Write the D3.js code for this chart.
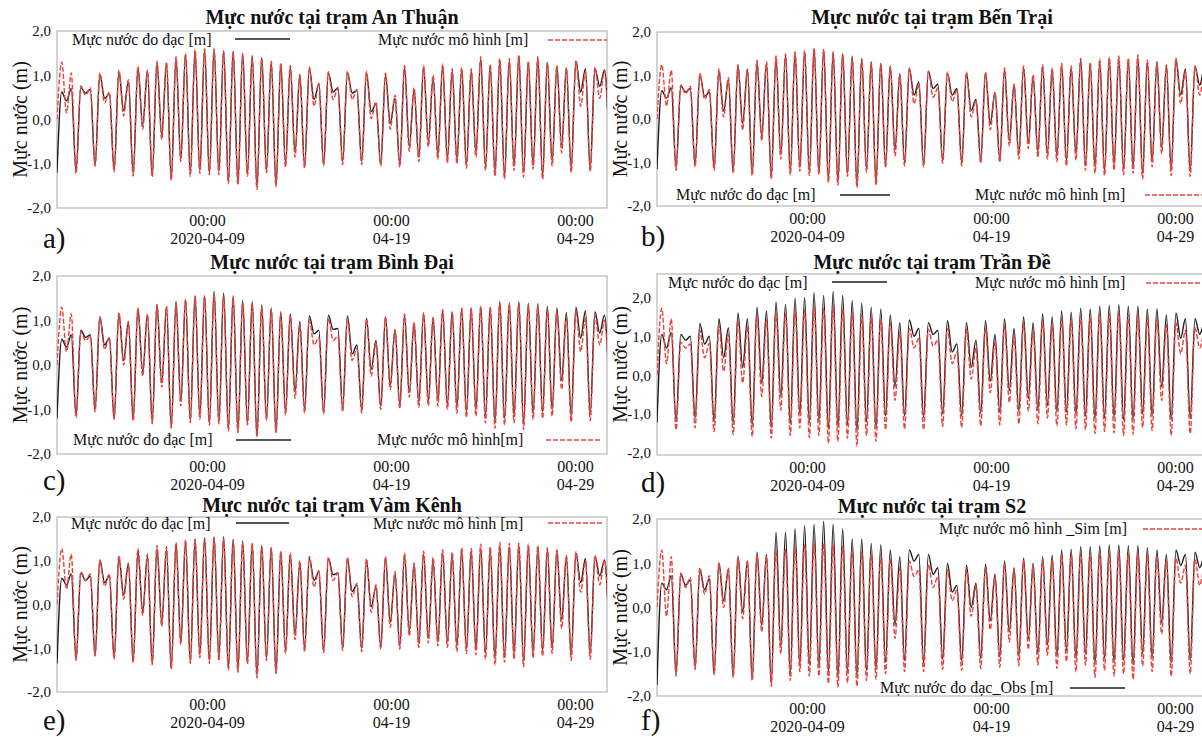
<!DOCTYPE html>
<html><head><meta charset="utf-8">
<script src="https://cdn.jsdelivr.net/npm/d3@7"></script>
<style>
body{margin:0;background:#fff;}
svg text{font-family:"Liberation Serif","Times New Roman",serif;fill:#111;}
</style></head>
<body><svg id="chart" width="1202" height="737"></svg>
<script>
// ---------- data ----------
const stationNames = ["An Thuận","Bến Trại","Bình Đại","Trần Đề","Vàm Kênh","S2"];
const panelLetters = ["a)","b)","c)","d)","e)","f)"];
const seriesStart = "2020-03-31T20:20:00Z";   // first sample (start of axis)
const seriesEnd = "2020-04-30T17:45:00Z";     // end of axis
const extremeStepHours = 6.21;                // spacing between successive highs/lows
const tickDates = ["2020-04-09T00:00:00Z","2020-04-19T00:00:00Z","2020-04-29T00:00:00Z"];
const tickTimeLabels = ["00:00","00:00","00:00"];
const tickDateLabels = ["2020-04-09","04-19","04-29"];
const yTicks = [-2,-1,0,1,2];

// successive high/low water levels [m]
const obsA = [
-1.20,0.62,0.42,0.70, -1.18,0.72,0.60,0.68, -1.03,1.02,0.48,0.58, -1.14,1.08,0.20,0.85,
-1.22,1.17,-0.12,1.08, -1.26,1.28,-0.35,1.25, -1.33,1.38,-0.88,1.46, -1.22,1.54,-1.15,1.57,
-1.20,1.58,-1.18,1.55, -1.40,1.55,-1.42,1.50, -1.22,1.45,-1.52,1.40, -1.15,1.30,-1.48,1.25,
-1.00,1.18,-0.75,1.00, -1.05,1.15,0.45,0.80, -1.00,1.05,0.62,0.72, -0.95,1.05,0.60,0.65,
-0.95,1.05,0.18,0.35, -1.00,1.00,-0.08,0.48, -1.00,1.17,-0.60,0.67, -0.85,1.17,-0.50,0.94,
-0.80,1.20,-0.88,1.10, -0.90,1.12,-1.00,1.10, -0.75,1.36,-1.05,1.20, -1.18,1.32,-1.26,1.32,
-1.05,1.43,-1.20,1.28, -1.05,1.39,-1.26,1.28, -0.95,1.20,-0.60,1.15, -1.10,1.32,0.62,1.15,
-1.10,1.15,0.75,1.12, -0.65];
const simA = [
0.00,1.30,0.15,1.05, -1.22,0.76,0.55,0.72, -1.06,1.05,0.38,0.62, -1.18,1.12,0.08,0.90,
-1.28,1.20,-0.22,1.12, -1.30,1.32,-0.45,1.30, -1.38,1.42,-0.95,1.50, -1.28,1.58,-1.22,1.60,
-1.25,1.60,-1.25,1.55, -1.45,1.52,-1.48,1.48, -1.28,1.42,-1.58,1.38, -1.20,1.32,-1.52,1.28,
-1.08,1.22,-0.85,1.02, -1.10,1.18,0.30,0.82, -1.05,1.08,0.45,0.70, -1.02,1.10,0.45,0.68,
-1.02,1.08,0.02,0.40, -1.05,1.05,-0.22,0.55, -1.08,1.22,-0.72,0.72, -0.95,1.22,-0.62,1.00,
-0.90,1.25,-0.98,1.15, -1.00,1.18,-1.10,1.15, -0.85,1.42,-1.15,1.25, -1.28,1.38,-1.35,1.38,
-1.15,1.46,-1.30,1.32, -1.12,1.42,-1.35,1.30, -1.05,1.22,-0.75,1.18, -1.20,1.34,0.30,1.08,
-1.18,1.18,0.48,1.10, -0.75];
const obsB = [
-1.15,0.65,0.48,0.72, -1.12,0.76,0.62,0.70, -1.05,1.02,0.52,0.62, -1.12,1.10,0.18,0.90,
-1.20,1.22,-0.10,1.12, -1.25,1.30,-0.38,1.28, -1.32,1.40,-0.82,1.45, -1.22,1.52,-1.12,1.55,
-1.22,1.62,-1.20,1.60, -1.40,1.55,-1.45,1.50, -1.25,1.45,-1.50,1.40, -1.15,1.32,-1.45,1.28,
-1.05,1.22,-0.70,1.05, -1.00,1.15,0.55,0.85, -1.05,1.10,0.70,0.80, -0.95,1.05,0.55,0.70,
-1.00,1.05,0.20,0.45, -0.95,1.05,-0.10,0.60, -0.92,1.12,-0.50,0.78, -0.82,1.18,-0.55,0.98,
-0.75,1.20,-0.80,1.12, -0.85,1.22,-0.95,1.18, -0.80,1.35,-1.05,1.25, -1.10,1.32,-1.18,1.38,
-1.05,1.40,-1.15,1.35, -1.10,1.42,-1.25,1.32, -0.98,1.30,-0.65,1.22, -1.15,1.38,0.55,1.15,
-1.18,1.20,0.78,1.18, -0.55];
const simB = [
0.00,1.25,0.30,1.12, -1.18,0.78,0.58,0.75, -1.10,1.05,0.45,0.68, -1.18,1.15,0.05,0.95,
-1.25,1.25,-0.25,1.15, -1.30,1.35,-0.50,1.32, -1.38,1.45,-0.92,1.50, -1.28,1.55,-1.20,1.58,
-1.30,1.62,-1.28,1.60, -1.46,1.52,-1.52,1.48, -1.32,1.42,-1.58,1.38, -1.22,1.30,-1.52,1.26,
-1.12,1.20,-0.85,1.00, -1.08,1.18,0.35,0.80, -1.10,1.10,0.50,0.72, -1.02,1.08,0.40,0.66,
-1.08,1.08,0.05,0.42, -1.02,1.08,-0.25,0.62, -1.00,1.18,-0.62,0.80, -0.92,1.22,-0.68,1.02,
-0.88,1.25,-0.92,1.18, -0.98,1.28,-1.08,1.22, -0.95,1.40,-1.18,1.30, -1.25,1.38,-1.30,1.42,
-1.18,1.45,-1.28,1.40, -1.25,1.48,-1.38,1.35, -1.10,1.32,-0.80,1.25, -1.30,1.40,0.35,1.10,
-1.32,1.22,0.55,1.15, -0.70];
const obsC = [
-1.20,0.58,0.40,0.68, -1.13,0.78,0.62,0.68, -1.00,1.08,0.45,0.60, -1.20,1.16,0.10,0.95,
-1.22,1.27,-0.15,1.12, -1.28,1.35,-0.40,1.30, -1.40,1.40,-0.82,1.47, -1.25,1.54,-1.15,1.56,
-1.30,1.66,-1.28,1.62, -1.43,1.56,-1.48,1.45, -1.30,1.42,-1.59,1.35, -1.20,1.28,-1.50,1.20,
-1.05,1.15,-0.60,0.98, -1.00,1.10,0.70,0.78, -1.05,1.12,0.80,0.82, -0.98,1.10,0.25,0.45,
-1.00,1.05,-0.10,0.55, -0.92,1.08,-0.45,0.80, -0.90,1.12,-0.62,0.95, -0.85,1.15,-0.80,1.05,
-0.80,1.22,-0.90,1.18, -0.95,1.25,-1.05,1.25, -1.00,1.31,-1.15,1.30, -1.28,1.43,-1.20,1.40,
-1.15,1.42,-1.30,1.39, -1.10,1.38,-1.05,1.32, -1.00,1.28,-0.35,1.18, -1.15,1.30,0.60,1.22,
-1.10,1.20,0.72,1.12, -0.60];
const simC = [
0.00,1.30,0.30,1.15, -1.18,0.75,0.55,0.65, -1.05,1.08,0.35,0.62, -1.22,1.18,0.00,0.98,
-1.26,1.28,-0.25,1.15, -1.32,1.36,-0.50,1.32, -1.42,1.42,-0.92,1.48, -1.30,1.55,-1.22,1.55,
-1.35,1.60,-1.32,1.55, -1.48,1.50,-1.52,1.40, -1.35,1.38,-1.62,1.30, -1.25,1.25,-1.52,1.15,
-1.12,1.10,-0.75,0.90, -1.08,1.02,0.45,0.62, -1.10,1.05,0.55,0.65, -1.05,1.05,0.10,0.38,
-1.08,1.02,-0.25,0.50, -1.00,1.08,-0.55,0.78, -0.98,1.15,-0.72,0.95, -0.95,1.18,-0.92,1.08,
-0.92,1.25,-1.00,1.20, -1.08,1.28,-1.18,1.28, -1.15,1.32,-1.30,1.30, -1.42,1.40,-1.35,1.38,
-1.30,1.40,-1.45,1.35, -1.22,1.32,-1.20,1.25, -1.15,1.20,-0.55,1.05, -1.28,1.22,0.30,1.05,
-1.25,1.12,0.45,1.00, -0.72];
const obsD = [
-1.22,1.05,0.70,1.10, -1.20,1.05,0.90,1.00, -1.10,1.33,0.80,1.00, -1.20,1.45,0.45,1.22,
-1.25,1.60,0.20,1.45, -1.30,1.75,-0.20,1.65, -1.35,1.88,-0.55,1.82, -1.25,1.98,-1.00,2.00,
-1.22,2.12,-1.20,2.05, -1.38,2.15,-1.35,2.05, -1.28,1.92,-1.45,1.85, -1.20,1.75,-1.38,1.70,
-1.05,1.55,-0.30,1.35, -1.05,1.42,1.00,1.20, -1.08,1.35,1.05,1.15, -1.00,1.40,0.60,0.80,
-1.05,1.35,0.20,0.90, -0.98,1.40,-0.15,1.05, -0.95,1.45,-0.40,1.20, -0.92,1.50,-0.60,1.35,
-0.90,1.58,-0.78,1.50, -0.95,1.65,-0.95,1.62, -1.00,1.72,-1.05,1.70, -1.12,1.78,-1.10,1.80,
-1.10,1.82,-1.15,1.78, -1.15,1.78,-1.00,1.70, -1.05,1.70,-0.30,1.55, -1.15,1.60,0.95,1.45,
-1.12,1.45,1.05,1.35, -0.50];
const simD = [
0.00,1.72,0.30,1.45, -1.40,0.85,0.70,0.80, -1.35,1.15,0.45,0.82, -1.45,1.28,0.10,1.05,
-1.52,1.40,-0.20,1.25, -1.58,1.52,-0.55,1.42, -1.62,1.60,-0.90,1.58, -1.55,1.68,-1.35,1.68,
-1.60,1.75,-1.55,1.72, -1.75,1.78,-1.70,1.70, -1.62,1.62,-1.82,1.55, -1.55,1.50,-1.70,1.45,
-1.40,1.35,-0.65,1.10, -1.38,1.20,0.70,0.95, -1.40,1.18,0.75,0.90, -1.32,1.20,0.30,0.60,
-1.35,1.18,-0.10,0.70, -1.30,1.22,-0.45,0.85, -1.28,1.28,-0.70,1.00, -1.25,1.32,-0.92,1.15,
-1.25,1.40,-1.10,1.30, -1.30,1.45,-1.28,1.42, -1.38,1.52,-1.40,1.50, -1.50,1.58,-1.45,1.58,
-1.48,1.60,-1.55,1.55, -1.52,1.55,-1.35,1.48, -1.42,1.45,-0.65,1.30, -1.55,1.35,0.55,1.15,
-1.50,1.22,0.70,1.10, -0.85];
const obsE = [
-1.35,0.60,0.45,0.70, -1.25,0.72,0.55,0.65, -1.15,1.00,0.50,0.65, -1.22,1.08,0.22,0.92,
-1.30,1.22,-0.15,1.10, -1.35,1.28,-0.40,1.25, -1.45,1.38,-0.85,1.42, -1.30,1.48,-1.15,1.52,
-1.28,1.55,-1.20,1.55, -1.45,1.50,-1.50,1.45, -1.30,1.40,-1.62,1.35, -1.22,1.28,-1.55,1.20,
-1.05,1.15,-0.70,0.95, -1.00,1.05,0.55,0.75, -1.05,1.05,0.68,0.72, -0.98,1.02,0.30,0.45,
-1.00,1.00,-0.05,0.40, -0.95,1.05,-0.40,0.70, -0.95,1.10,-0.60,0.90, -0.88,1.15,-0.75,1.00,
-0.85,1.18,-0.85,1.12, -0.95,1.22,-1.00,1.20, -1.00,1.28,-1.10,1.25, -1.22,1.35,-1.20,1.32,
-1.12,1.35,-1.28,1.32, -1.10,1.30,-1.05,1.25, -1.00,1.22,-0.35,1.10, -1.15,1.18,0.50,1.05,
-1.12,1.10,0.65,1.02, -0.75];
const simE = [
0.00,1.28,0.35,1.15, -1.28,0.75,0.55,0.70, -1.18,1.02,0.42,0.70, -1.25,1.12,0.12,0.95,
-1.33,1.28,-0.25,1.15, -1.38,1.35,-0.50,1.32, -1.48,1.42,-0.92,1.48, -1.35,1.50,-1.22,1.52,
-1.35,1.52,-1.28,1.50, -1.50,1.45,-1.55,1.40, -1.36,1.38,-1.68,1.32, -1.28,1.30,-1.58,1.22,
-1.12,1.18,-0.80,1.00, -1.08,1.10,0.40,0.78, -1.10,1.08,0.55,0.72, -1.05,1.08,0.18,0.48,
-1.08,1.05,-0.18,0.45, -1.02,1.10,-0.52,0.75, -1.02,1.18,-0.72,0.95, -0.98,1.22,-0.88,1.08,
-0.95,1.25,-0.98,1.20, -1.08,1.30,-1.12,1.28, -1.15,1.38,-1.25,1.32, -1.38,1.42,-1.32,1.40,
-1.25,1.40,-1.42,1.38, -1.22,1.35,-1.18,1.30, -1.12,1.25,-0.55,1.12, -1.28,1.20,0.28,1.00,
-1.25,1.12,0.45,1.00, -0.85];
const obsF = [
-1.75,0.55,0.40,0.72, -1.50,0.75,0.50,0.62, -1.35,0.85,0.40,0.65, -1.50,1.00,0.15,0.85,
-1.55,1.16,-0.10,1.05, -1.62,1.25,-0.40,1.20, -1.72,1.70,-0.90,1.70, -1.50,1.78,-1.30,1.85,
-1.30,1.88,-1.35,1.95, -1.45,1.88,-1.58,1.78, -1.45,1.55,-1.55,1.55, -1.42,1.45,-1.40,1.42,
-1.24,1.30,-0.40,1.15, -1.20,1.30,1.05,1.20, -1.25,1.20,0.75,0.90, -1.17,1.00,0.35,0.50,
-1.20,0.95,0.00,0.55, -1.15,0.98,-0.30,0.75, -1.12,1.05,-0.55,0.90, -1.10,1.12,-0.72,1.00,
-1.05,1.15,-0.85,1.18, -1.10,1.30,-0.98,1.32, -1.15,1.38,-1.05,1.38, -1.28,1.40,-1.15,1.42,
-1.25,1.42,-1.20,1.40, -1.30,1.40,-1.05,1.35, -1.15,1.30,-0.35,1.20, -1.25,1.30,0.95,1.20,
-1.20,1.25,0.90,1.15, -0.55];
const simF = [
0.00,1.30,-0.20,1.15, -1.55,0.78,0.45,0.68, -1.40,0.90,0.30,0.72, -1.52,1.02,0.00,0.90,
-1.58,1.12,-0.25,1.05, -1.65,1.20,-0.55,1.15, -1.78,1.30,-1.05,1.32, -1.65,1.38,-1.45,1.42,
-1.55,1.48,-1.55,1.45, -1.72,1.42,-1.80,1.38, -1.70,1.28,-1.78,1.25, -1.65,1.22,-1.62,1.18,
-1.50,1.12,-0.70,0.90, -1.45,1.05,0.70,0.85, -1.45,0.98,0.45,0.70, -1.40,0.85,0.15,0.40,
-1.42,0.85,-0.20,0.48, -1.38,0.90,-0.50,0.68, -1.35,0.98,-0.78,0.85, -1.32,1.05,-0.95,0.95,
-1.30,1.10,-1.08,1.08, -1.38,1.18,-1.22,1.18, -1.45,1.22,-1.30,1.22, -1.58,1.25,-1.42,1.25,
-1.55,1.25,-1.50,1.22, -1.62,1.22,-1.32,1.18, -1.45,1.15,-0.60,1.05, -1.55,1.12,0.55,0.95,
-1.50,1.08,0.50,0.92, -0.90];

// legend texts
const obsLegend = ["Mực nước đo đạc [m]","Mực nước đo đạc [m]","Mực nước đo đạc [m]","Mực nước đo đạc [m]","Mực nước đo đạc [m]","Mực nước đo đạc_Obs [m]"];
const simLegend = ["Mực nước mô hình [m]","Mực nước mô hình [m]","Mực nước mô hình[m]","Mực nước mô hình [m]","Mực nước mô hình [m]","Mực nước mô hình _Sim [m]"];

// ---------- layout ----------
const obsSeries = [obsA,obsB,obsC,obsD,obsE,obsF];
const simSeries = [simA,simB,simC,simD,simE,simF];
const layout = [
 {x0:57, x1:607, top:31, bottom:208, ymin:-2, ymax:2, titleY:24, letter:[43,248],
  obsLeg:{tx:72,ty:45,l1:235,l2:290,ly:39}, simLeg:{tx:378,ty:45,l1:548,l2:607,ly:40}},
 {x0:657, x1:1207, top:32, bottom:206, ymin:-2, ymax:2, titleY:24, letter:[641,246],
  obsLeg:{tx:676,ty:200,l1:840,l2:890,ly:195}, simLeg:{tx:975,ty:200,l1:1145,l2:1202,ly:195}},
 {x0:57, x1:607, top:276, bottom:454, ymin:-2, ymax:2, titleY:269, letter:[43,490],
  obsLeg:{tx:73,ty:445,l1:236,l2:291,ly:440}, simLeg:{tx:377,ty:445,l1:546,l2:602,ly:440}},
 {x0:657, x1:1207, top:274, bottom:455, ymin:-2.05, ymax:2.6, titleY:269, letter:[641,492],
  obsLeg:{tx:668,ty:288,l1:832,l2:887,ly:282}, simLeg:{tx:975,ty:288,l1:1146,l2:1202,ly:283}},
 {x0:57, x1:607, top:517, bottom:692, ymin:-2, ymax:2, titleY:512, letter:[43,730],
  obsLeg:{tx:71,ty:529,l1:236,l2:289,ly:523}, simLeg:{tx:373,ty:529,l1:548,l2:602,ly:523}},
 {x0:657, x1:1207, top:519, bottom:696, ymin:-2, ymax:2, titleY:513, letter:[641,730],
  obsLeg:{tx:880,ty:693,l1:1070,l2:1125,ly:688}, simLeg:{tx:939,ty:534,l1:1143,l2:1202,ly:529}}
];

const OBS_COLOR = "#1c1c1c";
const SIM_COLOR = "#e8433d";
const svg = d3.select("#chart");
const t0 = new Date(seriesStart);
const t1 = new Date(seriesEnd);
const fmtY = v => (v < 0 ? "-" : "") + Math.abs(v).toFixed(1).replace(".", ",");

layout.forEach((L, i) => {
  const g = svg.append("g");
  const x = d3.scaleTime().domain([t0, t1]).range([L.x0, L.x1]);
  const y = d3.scaleLinear().domain([L.ymin, L.ymax]).range([L.bottom, L.top]);
  const toPts = arr => arr.map((v, j) => ({t: new Date(t0.getTime() + j * extremeStepHours * 3600e3), v}));

  const clipId = "clip" + i;
  g.append("clipPath").attr("id", clipId).append("rect")
    .attr("x", L.x0).attr("y", L.top).attr("width", L.x1 - L.x0).attr("height", L.bottom - L.top);

  // frame
  g.append("rect").attr("x", L.x0).attr("y", L.top).attr("width", L.x1 - L.x0).attr("height", L.bottom - L.top)
    .attr("fill", "none").attr("stroke", "#a8a8a8").attr("stroke-width", 1);

  const line = d3.line().x(d => x(d.t)).y(d => y(d.v)).curve(d3.curveMonotoneX);
  g.append("path").datum(toPts(obsSeries[i])).attr("clip-path", `url(#${clipId})`)
    .attr("d", line).attr("fill", "none").attr("stroke", OBS_COLOR).attr("stroke-width", 1.4);
  g.append("path").datum(toPts(simSeries[i])).attr("clip-path", `url(#${clipId})`)
    .attr("d", line).attr("fill", "none").attr("stroke", SIM_COLOR).attr("stroke-width", 1.4)
    .attr("stroke-dasharray", "5,2");

  // y axis
  const ya = g.append("g").attr("transform", `translate(${L.x0},0)`)
    .call(d3.axisLeft(y).tickValues(yTicks).tickSize(0).tickPadding(6).tickFormat(fmtY));
  ya.select(".domain").remove();
  ya.selectAll("text").attr("font-size", 15).attr("font-family", "Liberation Serif").attr("fill", "#222");

  // x axis (two-line labels)
  const xa = g.append("g").attr("transform", `translate(0,${L.bottom})`)
    .call(d3.axisBottom(x).tickValues(tickDates.map(d => new Date(d))).tickSize(0).tickFormat(() => ""));
  xa.select(".domain").remove();
  xa.selectAll(".tick").each(function(d, k) {
    const tk = d3.select(this);
    tk.append("text").attr("y", 17.5).attr("text-anchor", "middle").attr("font-size", 16)
      .attr("font-family", "Liberation Serif").attr("fill", "#222").text(tickTimeLabels[k]);
    tk.append("text").attr("y", 36).attr("text-anchor", "middle").attr("font-size", 16)
      .attr("font-family", "Liberation Serif").attr("fill", "#222").text(tickDateLabels[k]);
  });

  // y title
  const cy = (L.top + L.bottom) / 2;
  const ytx = L.x0 - 37;
  g.append("text").attr("transform", `translate(${ytx},${cy}) rotate(-90)`)
    .attr("text-anchor", "middle").attr("dy", "0.35em").attr("font-size", 20).text("Mực nước (m)");

  // title
  g.append("text").attr("x", (L.x0 + L.x1) / 2).attr("y", L.titleY).attr("text-anchor", "middle")
    .attr("font-size", 20).attr("font-weight", "bold").text("Mực nước tại trạm " + stationNames[i]);

  // panel letter
  g.append("text").attr("x", L.letter[0]).attr("y", L.letter[1]).attr("font-size", 29).text(panelLetters[i]);

  // legends
  const oL = L.obsLeg, sL = L.simLeg;
  g.append("text").attr("x", oL.tx).attr("y", oL.ty).attr("font-size", 16).text(obsLegend[i]);
  g.append("line").attr("x1", oL.l1).attr("x2", oL.l2).attr("y1", oL.ly).attr("y2", oL.ly)
    .attr("stroke", OBS_COLOR).attr("stroke-width", 1.3);
  g.append("text").attr("x", sL.tx).attr("y", sL.ty).attr("font-size", 16).text(simLegend[i]);
  g.append("line").attr("x1", sL.l1).attr("x2", sL.l2).attr("y1", sL.ly).attr("y2", sL.ly)
    .attr("stroke", SIM_COLOR).attr("stroke-width", 1.3).attr("stroke-dasharray", "5,2");
});
</script></body></html>
